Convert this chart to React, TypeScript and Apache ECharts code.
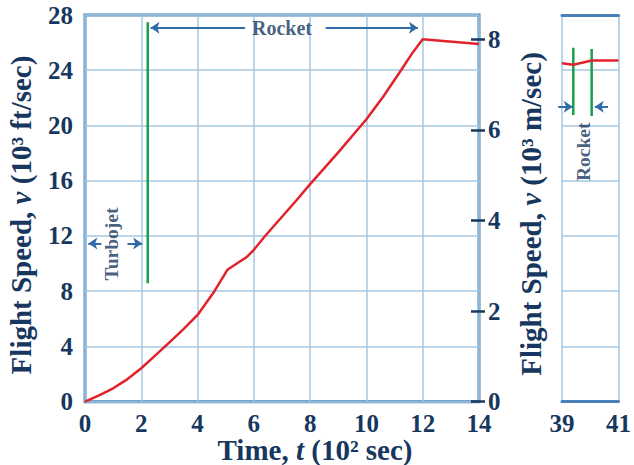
import React, { useEffect, useRef } from 'react';
import * as echarts from 'echarts';

// Main panel: flight speed (10^3 ft/sec) vs time (10^2 sec)
const TIME = [0, 0.5, 1, 1.5, 2, 2.5, 3, 3.5, 4, 4.6, 5.06, 5.76, 6, 6.4, 7.5, 8, 9, 10, 10.6, 11.23, 11.6, 12, 14];
const SPEED = [0, 0.46, 0.97, 1.62, 2.42, 3.35, 4.3, 5.25, 6.28, 8.0, 9.55, 10.5, 11.0, 12.0, 14.55, 15.75, 18.05, 20.45, 22.1, 24.0, 25.15, 26.25, 25.9];

// Side panel (t from 39 to 41)
const TIME2 = [39, 39.4, 40.05, 41];
const SPEED2 = [24.5, 24.4, 24.7, 24.7];

// Tick settings
const X_TICKS = [0, 2, 4, 6, 8, 10, 12, 14];
const X2_TICKS = [39, 41];
const Y_TICKS = [0, 4, 8, 12, 16, 20, 24, 28];
const Y_MS_TICKS = [0, 2, 4, 6, 8];
const FT_PER_M = 3.28084;

// Annotation lines (data coords)
const GREEN_MAIN = [[2.23, 8.57], [2.23, 27.47]];
const GREEN_SIDE_A = [[39.4, 20.76], [39.4, 25.63]];
const GREEN_SIDE_B = [[40.05, 20.69], [40.05, 25.54]];
const ARROWS_MAIN = [
  [[5.69, 27.08], [2.33, 27.08]],
  [[8.55, 27.08], [11.83, 27.08]],
  [[0.58, 11.45], [0.12, 11.45]],
  [[1.51, 11.45], [2.03, 11.45]],
];
const ARROWS_SIDE = [
  [[38.87, 21.36], [39.38, 21.36]],
  [[40.63, 21.36], [40.16, 21.36]],
];
const LABELS_MAIN = [
  { name: 'Rocket', at: [7.0, 27.08], rotate: 0 },
  { name: 'Turbojet', at: [0.93, 11.42], rotate: 90 },
];
const LABELS_SIDE = [{ name: 'Rocket', at: [39.75, 18.1], rotate: 90 }];

const NAVY = '#17375e';
const BORDER = '#4a80b8';
const GRIDC = '#a3c8e0';
const RED = '#e0232b';
const GREEN = '#17a04a';
const ARROW = '#2f6ca8';
const FONT = 'Liberation Serif';

const X2_BASE = 39;

export default function App() {
  const ref = useRef<HTMLDivElement>(null);
  useEffect(() => {
    const chart = echarts.init(ref.current!, null, { renderer: 'svg' });
    const tickLabel = { color: NAVY, fontFamily: FONT, fontWeight: 'bold' as const, fontSize: 25 };
    const split = { show: true, lineStyle: { color: GRIDC, width: 1.5 } };
    const titleStyle = (text: string) => ({
      text,
      fill: NAVY,
      fontFamily: FONT,
      fontWeight: 'bold',
      fontSize: 29,
      align: 'center',
      verticalAlign: 'middle',
      rich: {
        i: { fontFamily: FONT, fontWeight: 'bold', fontStyle: 'italic', fontSize: 29, fill: NAVY },
      },
    });
    const annLabel = (rotate: number) => ({
      show: true,
      position: 'inside',
      formatter: '{b}',
      rotate,
      color: NAVY,
      fontFamily: FONT,
      fontWeight: 'bold',
      fontSize: rotate ? 19.5 : 20,
    });
    chart.setOption({
      animation: false,
      backgroundColor: '#ffffff',
      grid: [
        { left: 85, top: 15, width: 394, height: 386.7, show: true, borderColor: BORDER, borderWidth: 3, backgroundColor: 'transparent' },
        { left: 562, top: 15, width: 57, height: 386.7 },
      ],
      xAxis: [
        {
          gridIndex: 0, type: 'value', min: 0, max: 14, interval: 2,
          axisLine: { show: false }, axisTick: { show: false },
          axisLabel: { ...tickLabel, margin: 9, customValues: X_TICKS },
          splitLine: split,
        },
        {
          gridIndex: 1, type: 'value', min: 0, max: 2, interval: 2,
          axisLine: { show: true, lineStyle: { color: BORDER, width: 3 } },
          axisTick: { show: false },
          axisLabel: { ...tickLabel, margin: 9, formatter: (v: number) => String(v + X2_BASE), customValues: X2_TICKS.map((v) => v - X2_BASE) },
          splitLine: split,
        },
        {
          gridIndex: 1, type: 'value', min: 0, max: 2, interval: 2, position: 'top',
          axisLine: { show: true, lineStyle: { color: BORDER, width: 3 } },
          axisTick: { show: false }, axisLabel: { show: false }, splitLine: { show: false },
        },
      ],
      yAxis: [
        {
          gridIndex: 0, type: 'value', min: 0, max: 28, interval: 4,
          axisLine: { show: false }, axisTick: { show: false },
          axisLabel: { ...tickLabel, margin: 12, customValues: Y_TICKS },
          splitLine: split,
        },
        {
          gridIndex: 0, type: 'value', position: 'right', min: 0, max: 28 / FT_PER_M, interval: 2,
          axisLine: { show: false },
          axisTick: { show: true, inside: true, length: 8, customValues: Y_MS_TICKS, lineStyle: { color: NAVY, width: 2.5 } },
          axisLabel: { show: false }, splitLine: { show: false },
        },
        {
          gridIndex: 0, type: 'value', position: 'right', min: 0, max: 28 / FT_PER_M, interval: 2,
          axisLine: { show: false },
          axisTick: { show: true, inside: false, length: 6, customValues: Y_MS_TICKS, lineStyle: { color: NAVY, width: 2.5 } },
          axisLabel: { ...tickLabel, margin: 9, customValues: Y_MS_TICKS },
          splitLine: { show: false },
        },
        {
          gridIndex: 1, type: 'value', min: 0, max: 28, interval: 4,
          axisLine: { show: false }, axisTick: { show: false }, axisLabel: { show: false },
          splitLine: split,
        },
      ],
      series: [
        {
          type: 'line', xAxisIndex: 0, yAxisIndex: 0, showSymbol: false, symbol: 'none',
          data: TIME.map((t, i) => [t, SPEED[i]]),
          lineStyle: { color: RED, width: 2.5 }, z: 5,
        },
        {
          type: 'line', xAxisIndex: 1, yAxisIndex: 3, showSymbol: false, symbol: 'none',
          data: TIME2.map((t, i) => [t - X2_BASE, SPEED2[i]]),
          lineStyle: { color: RED, width: 2.5 }, z: 5,
        },
        {
          type: 'line', xAxisIndex: 0, yAxisIndex: 0, showSymbol: false, symbol: 'none',
          data: GREEN_MAIN, lineStyle: { color: GREEN, width: 2.5 }, z: 4,
        },
        {
          type: 'line', xAxisIndex: 1, yAxisIndex: 3, showSymbol: false, symbol: 'none',
          data: GREEN_SIDE_A.map(([x, y]) => [x - X2_BASE, y]), lineStyle: { color: GREEN, width: 2.5 }, z: 4,
        },
        {
          type: 'line', xAxisIndex: 1, yAxisIndex: 3, showSymbol: false, symbol: 'none',
          data: GREEN_SIDE_B.map(([x, y]) => [x - X2_BASE, y]), lineStyle: { color: GREEN, width: 2.5 }, z: 4,
        },
        {
          type: 'lines', coordinateSystem: 'cartesian2d', xAxisIndex: 0, yAxisIndex: 0, clip: false,
          symbol: ['none', 'arrow'], symbolSize: 9,
          lineStyle: { color: ARROW, width: 2, opacity: 1 },
          data: ARROWS_MAIN.map((c) => ({ coords: c })), z: 6,
        },
        {
          type: 'lines', coordinateSystem: 'cartesian2d', xAxisIndex: 1, yAxisIndex: 3, clip: false,
          symbol: ['none', 'arrow'], symbolSize: 9,
          lineStyle: { color: ARROW, width: 2, opacity: 1 },
          data: ARROWS_SIDE.map((c) => ({ coords: c.map(([x, y]) => [x - X2_BASE, y]) })), z: 6,
        },
        {
          type: 'scatter', xAxisIndex: 0, yAxisIndex: 0, symbolSize: 1, itemStyle: { color: 'rgba(0,0,0,0)' },
          data: LABELS_MAIN.map((l) => ({ name: l.name, value: l.at, label: annLabel(l.rotate) })), z: 7,
        },
        {
          type: 'scatter', xAxisIndex: 1, yAxisIndex: 3, symbolSize: 1, itemStyle: { color: 'rgba(0,0,0,0)' },
          data: LABELS_SIDE.map((l) => ({ name: l.name, value: [l.at[0] - X2_BASE, l.at[1]], label: annLabel(l.rotate) })), z: 7,
        },
      ],
      graphic: [
        { type: 'text', x: 21, y: 215, rotation: Math.PI / 2, style: titleStyle('Flight Speed, {i|v} (10³ ft/sec)') },
        { type: 'text', x: 531, y: 214, rotation: Math.PI / 2, style: titleStyle('Flight Speed, {i|v} (10³ m/sec)') },
        { type: 'text', x: 315, y: 450.3, style: titleStyle('Time, {i|t} (10² sec)') },
      ],
    });
    return () => chart.dispose();
  }, []);
  return <div ref={ref} style={{ position: 'absolute', left: 0, top: 0, width: 634, height: 465 }} />;
}
